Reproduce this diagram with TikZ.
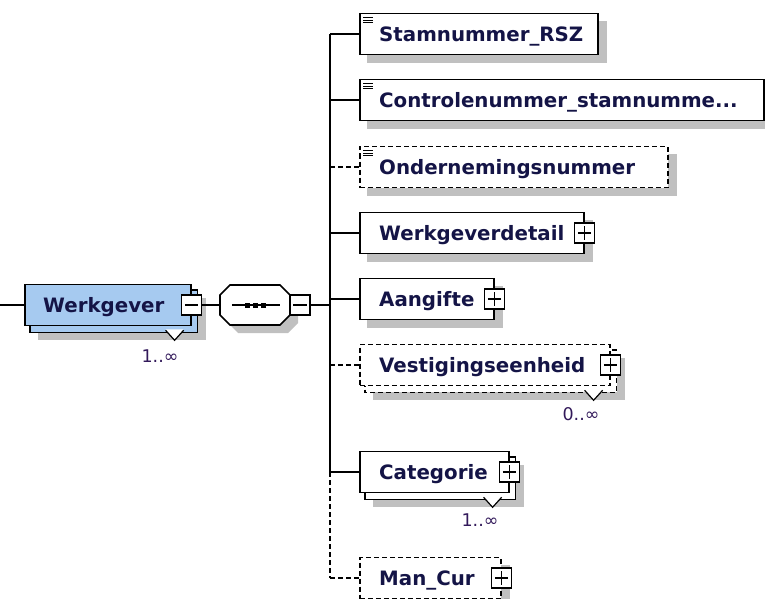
\documentclass[tikz,border=0pt]{standalone}
\usepackage{fontspec}
\setmainfont{DejaVu Sans}
\usetikzlibrary{positioning,calc,backgrounds}

\definecolor{shadowgray}{RGB}{192,192,192}
\definecolor{wgblue}{RGB}{166,202,240}
\definecolor{textnavy}{RGB}{20,20,70}
\definecolor{multpurple}{RGB}{50,25,90}

\tikzset{
  elem/.style={draw, line width=1.6pt, fill=white, minimum height=41pt, inner sep=0pt, anchor=west},
  opt/.style={dash pattern=on 5pt off 3pt},
  elemtext/.style={font=\bfseries\fontsize{19.8}{22}\selectfont, text=textnavy, anchor=base west, inner sep=0pt},
  mult/.style={font=\fontsize{17.5}{20}\selectfont, text=multpurple, anchor=east, inner sep=0pt},
  pm/.style={draw, line width=1.6pt, fill=white, minimum size=20pt, inner sep=0pt},
  conn/.style={line width=1.6pt},
}

\begin{document}
\begin{tikzpicture}[x=1pt, y=-1pt]
    \useasboundingbox (0,0) rectangle (765,599);

    % Werkgever element (repeating, so drawn as a stack)
    \node[elem, fill=wgblue, minimum width=166pt] (wg) at (24,305) {};
    \node[elemtext] (wg-t) at ([xshift=19pt, yshift=-7.5pt]wg.west) {Werkgever};
    \node[pm] (wg-m) at (wg.east) {};
    \draw[conn] ([xshift=4pt]wg-m.west) -- ([xshift=-4pt]wg-m.east);
    \node[mult] (wg-n) at ($(wg.south east)+(-13,30)$) {1..∞};

    % Sequence compositor
    \node[minimum width=70pt, minimum height=40pt, inner sep=0pt] (seq) at (255,305) {};
    \draw[conn, fill=white] ([xshift=-25pt, yshift=20pt]seq.center) -- ++(50,0) -- ++(10,10) -- ++(0,20)
        -- ++(-10,10) -- ++(-50,0) -- ++(-10,-10) -- ++(0,-20) -- cycle;
    \draw[conn] ([xshift=12pt]seq.west) -- ([xshift=-10pt]seq.east);
    \foreach \dx in {-8,0,8} {
        \fill ([shift={(\dx-2.5,-2.5)}]seq.center) rectangle +(5,5);
    }
    \node[pm, right=-1pt of seq] (seq-m) {};
    \draw[conn] ([xshift=4pt]seq-m.west) -- ([xshift=-4pt]seq-m.east);

    % Child elements: name/text/centre y/width/border
    \foreach \n/\txt/\y/\w/\s in {stam/Stamnummer\_RSZ/34/238/solid,
                                  ctrl/Controlenummer\_stamnumme{...}/100/404/solid,
                                  ond/Ondernemingsnummer/167/308/opt,
                                  wgd/Werkgeverdetail/233/224/solid,
                                  aang/Aangifte/299/134/solid,
                                  vest/Vestigingseenheid/365/250/opt,
                                  cat/Categorie/472/149/solid,
                                  man/Man\_Cur/578/141/opt} {
        \node[elem, \s, minimum width=\w pt] (\n) at (359,\y) {};
        \node[elemtext] (\n-t) at ([xshift=20pt, yshift=-7.5pt]\n.west) {\txt};
    }

    % Simple type icons
    \foreach \n in {stam, ctrl, ond} {
        \foreach \dy in {5,7.5,10} {
            \draw[line width=1.2pt] ([shift={(4,\dy)}]\n.north west) -- +(10,0);
        }
    }

    % Expand boxes
    \foreach \n in {wgd, aang, vest, cat, man} {
        \node[pm] (\n-p) at (\n.east) {};
        \draw[conn] ([xshift=4pt]\n-p.west) -- ([xshift=-4pt]\n-p.east)
                    ([yshift=-4pt]\n-p.north) -- ([yshift=4pt]\n-p.south);
    }

    % Occurrence labels
    \node[mult] (vest-n) at ($(vest.south east)+(-11,28)$) {0..∞};
    \node[mult] (cat-n) at ($(cat.south east)+(-11,27)$) {1..∞};

    % Connectors
    \coordinate (start) at (0,305);
    \coordinate (bus) at (330,305);
    \draw[conn] (start) -- (wg.west);
    \draw[conn] (wg-m.east) -- (seq.west);
    \draw[conn] (seq-m.east) -- (bus);
    \draw[conn] (bus |- stam.west) -- (bus |- cat.west);
    \draw[conn, opt] (bus |- cat.west) -- (bus |- man.west);
    \foreach \n/\s in {stam/solid, ctrl/solid, ond/opt, wgd/solid, aang/solid, vest/opt, cat/solid, man/opt} {
        \draw[conn, \s] (bus |- \n.west) -- (\n.west);
    }

    % Shadows and stacked back boxes
    \begin{scope}[on background layer]
        \foreach \n/\off in {wg/14, stam/8, ctrl/8, ond/8, wgd/8, aang/8, vest/14, cat/14, man/8} {
            \fill[shadowgray] ($(\n.north west)+(\off,\off)$) rectangle ($(\n.south east)+(\off,\off)$);
        }
        \fill[shadowgray] ([xshift=-17pt, yshift=12pt]seq.center) -- ++(50,0) -- ++(10,10) -- ++(0,20)
            -- ++(-10,10) -- ++(-50,0) -- ++(-10,-10) -- ++(0,-20) -- cycle;
        \draw[conn, fill=wgblue] ($(wg.north west)+(6,6)$) rectangle ($(wg.south east)+(6,6)$);
        \draw[conn, opt, fill=white] ($(vest.north west)+(6,6)$) rectangle ($(vest.south east)+(6,6)$);
        \draw[conn, fill=white] ($(cat.north west)+(6,6)$) rectangle ($(cat.south east)+(6,6)$);
        \foreach \n in {wg, vest, cat} {
            \fill[white] ($(\n.south east)+(-26,3)$) -- ($(\n.south east)+(-17,14)$) -- ($(\n.south east)+(-8,3)$) -- cycle;
            \draw[line width=1.2pt] ($(\n.south east)+(-26,4)$) -- ($(\n.south east)+(-17,14)$) -- ($(\n.south east)+(-8,4)$);
        }
    \end{scope}
\end{tikzpicture}
\end{document}
